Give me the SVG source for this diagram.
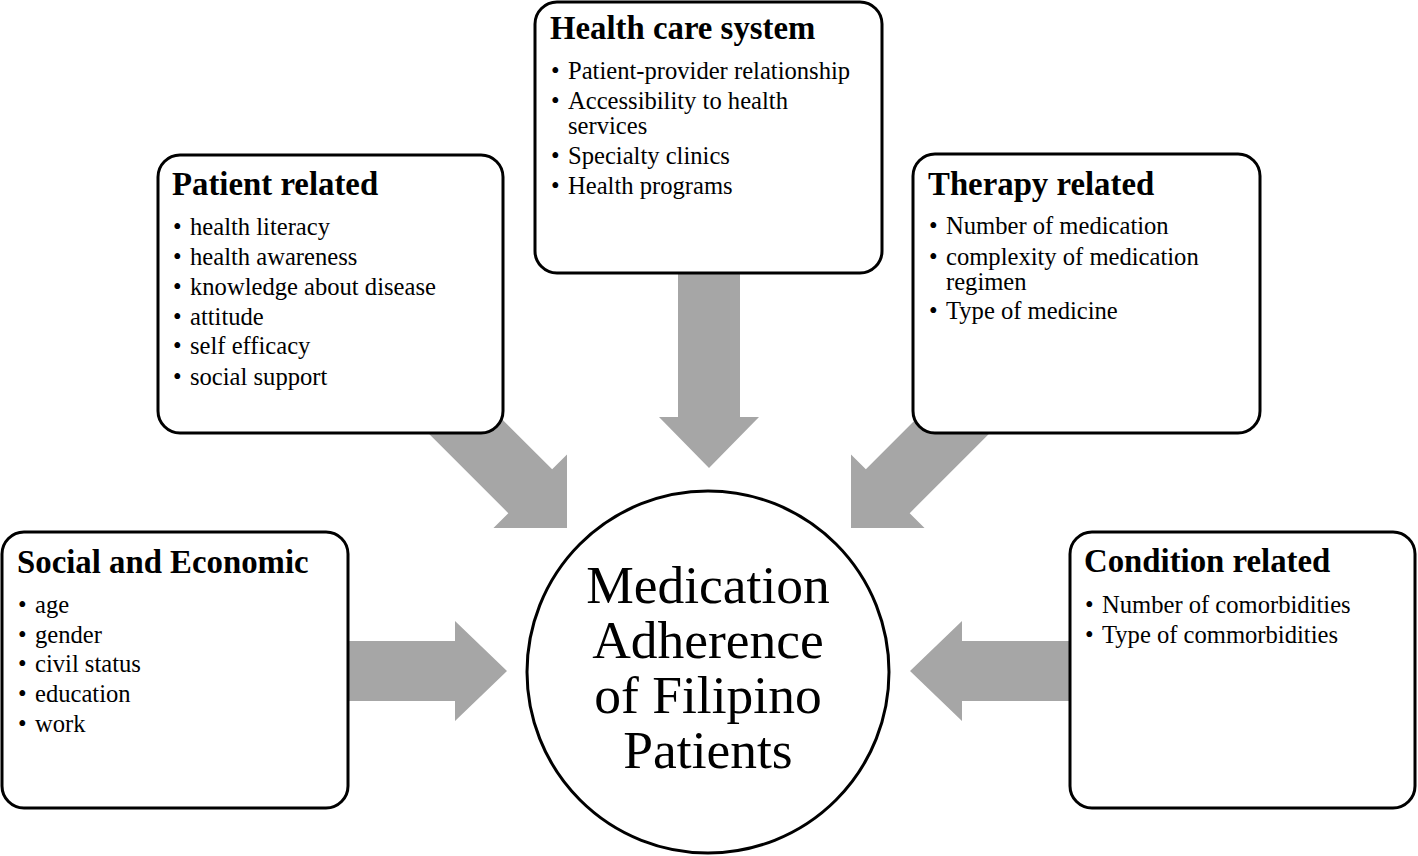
<svg xmlns="http://www.w3.org/2000/svg" width="1418" height="856" viewBox="0 0 1418 856">
<style>
.box{fill:#fff;stroke:#000;stroke-width:3}
.arr{fill:#a6a6a6;stroke:none}
.t{font-family:"Liberation Serif","Times New Roman",serif;font-size:32.8px;font-weight:bold;fill:#000}
.i{font-family:"Liberation Serif","Times New Roman",serif;font-size:24.6px;fill:#000}
.c{font-family:"Liberation Serif","Times New Roman",serif;font-size:53.5px;fill:#000;text-anchor:middle}
</style>
<rect width="1418" height="856" fill="#fff"/>
<g id="connectors">
<polygon class="arr" transform="translate(507,671)" points="0,0 -52,-50 -52,-30 -167,-30 -167,30 -52,30 -52,50"/>
<polygon class="arr" transform="translate(910,671) rotate(180)" points="0,0 -52,-50 -52,-30 -168,-30 -168,30 -52,30 -52,50"/>
<polygon class="arr" transform="translate(709,468) rotate(90)" points="0,0 -51,-50 -51,-31 -203,-31 -203,31 -51,31 -51,50"/>
<polygon class="arr" transform="translate(567,528) rotate(45)" points="0,0 -52,-52 -52,-31 -170,-31 -170,31 -52,31 -52,52"/>
<polygon class="arr" transform="translate(851,528) rotate(135)" points="0,0 -52,-52 -52,-31 -170,-31 -170,31 -52,31 -52,52"/>
</g>
<g id="social">
<rect class="box" x="2" y="532" width="346" height="276" rx="22"/>
<text class="t" x="17" y="573">Social and Economic</text>
<text class="i" x="18" y="613">•</text><text class="i" x="35" y="613">age</text>
<text class="i" x="18" y="643">•</text><text class="i" x="35" y="643">gender</text>
<text class="i" x="18" y="672">•</text><text class="i" x="35" y="672">civil status</text>
<text class="i" x="18" y="702">•</text><text class="i" x="35" y="702">education</text>
<text class="i" x="18" y="732">•</text><text class="i" x="35" y="732">work</text>
</g>
<g id="patient">
<rect class="box" x="158" y="155" width="345" height="278" rx="22"/>
<text class="t" x="172" y="195">Patient related</text>
<text class="i" x="173" y="235">•</text><text class="i" x="190" y="235">health literacy</text>
<text class="i" x="173" y="265">•</text><text class="i" x="190" y="265">health awareness</text>
<text class="i" x="173" y="295">•</text><text class="i" x="190" y="295">knowledge about disease</text>
<text class="i" x="173" y="325">•</text><text class="i" x="190" y="325">attitude</text>
<text class="i" x="173" y="354">•</text><text class="i" x="190" y="354">self efficacy</text>
<text class="i" x="173" y="385">•</text><text class="i" x="190" y="385">social support</text>
</g>
<g id="healthcare">
<rect class="box" x="535" y="2" width="347" height="271" rx="22"/>
<text class="t" x="550" y="39">Health care system</text>
<text class="i" x="551" y="79">•</text><text class="i" x="568" y="79">Patient-provider relationship</text>
<text class="i" x="551" y="109">•</text><text class="i" x="568" y="109">Accessibility to health</text>
<text class="i" x="568" y="134">services</text>
<text class="i" x="551" y="164">•</text><text class="i" x="568" y="164">Specialty clinics</text>
<text class="i" x="551" y="194">•</text><text class="i" x="568" y="194">Health programs</text>
</g>
<g id="therapy">
<rect class="box" x="913" y="154" width="347" height="279" rx="22"/>
<text class="t" x="928" y="195">Therapy related</text>
<text class="i" x="929" y="234">•</text><text class="i" x="946" y="234">Number of medication</text>
<text class="i" x="929" y="265">•</text><text class="i" x="946" y="265">complexity of medication</text>
<text class="i" x="946" y="290">regimen</text>
<text class="i" x="929" y="319">•</text><text class="i" x="946" y="319">Type of medicine</text>
</g>
<g id="condition">
<rect class="box" x="1070" y="532" width="345" height="276" rx="22"/>
<text class="t" x="1084" y="572">Condition related</text>
<text class="i" x="1085" y="613">•</text><text class="i" x="1102" y="613">Number of comorbidities</text>
<text class="i" x="1085" y="643">•</text><text class="i" x="1102" y="643">Type of commorbidities</text>
</g>
<g id="center">
<circle cx="708" cy="672" r="181" fill="#fff" stroke="#000" stroke-width="3"/>
<text class="c" x="708" y="603">Medication</text>
<text class="c" x="708" y="658">Adherence</text>
<text class="c" x="708" y="713">of Filipino</text>
<text class="c" x="708" y="768">Patients</text>
</g>
</svg>
